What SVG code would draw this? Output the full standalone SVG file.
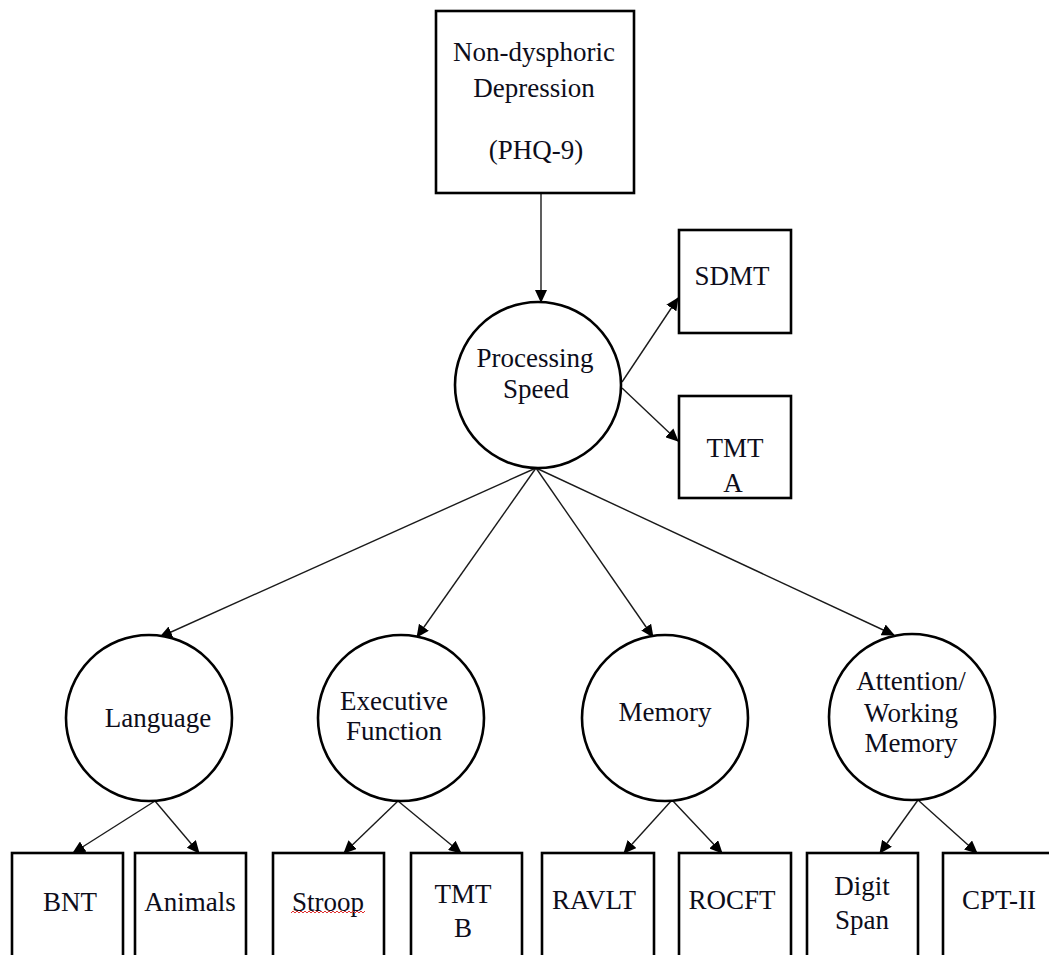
<svg xmlns="http://www.w3.org/2000/svg" width="1049" height="955" viewBox="0 0 1049 955">
<style>
.box{fill:#fff;stroke:#000;stroke-width:2.6}
.circ{fill:#fff;stroke:#000;stroke-width:2.6}
.lbl{font-family:"Liberation Serif","Times New Roman",serif;font-size:27px;fill:#0d0d1a;text-anchor:middle}
.edge{stroke:#1a1a1a;stroke-width:1.4;fill:none;marker-end:url(#ah)}
</style>
<defs>
<marker id="ah" markerWidth="13" markerHeight="12" refX="12" refY="6" orient="auto" markerUnits="userSpaceOnUse">
<path d="M0,0 L13,6 L0,12 Z" fill="#000"/>
</marker>
</defs>
<rect width="1049" height="955" fill="#fff"/>
<g id="connectors">
<line class="edge" x1="541" y1="193" x2="541" y2="302"/>
<line class="edge" x1="622" y1="382" x2="678" y2="298"/>
<line class="edge" x1="622" y1="388" x2="678" y2="441"/>
<line class="edge" x1="536" y1="468" x2="160" y2="637"/>
<line class="edge" x1="536" y1="468" x2="417" y2="637"/>
<line class="edge" x1="536" y1="468" x2="653" y2="637"/>
<line class="edge" x1="536" y1="468" x2="894" y2="635"/>
<line class="edge" x1="155" y1="801" x2="73" y2="853"/>
<line class="edge" x1="155" y1="801" x2="199" y2="853"/>
<line class="edge" x1="398" y1="801" x2="344" y2="853"/>
<line class="edge" x1="398" y1="801" x2="461" y2="853"/>
<line class="edge" x1="672" y1="800" x2="624" y2="853"/>
<line class="edge" x1="672" y1="800" x2="722" y2="853"/>
<line class="edge" x1="918" y1="800" x2="880" y2="853"/>
<line class="edge" x1="918" y1="800" x2="977" y2="853"/>
</g>
<g id="depression">
<rect class="box" x="436" y="11" width="198" height="182"/>
<text class="lbl" x="534" y="61">Non-dysphoric</text>
<text class="lbl" x="534" y="97">Depression</text>
<text class="lbl" x="536" y="159">(PHQ-9)</text>
</g>
<g id="processing-speed">
<circle class="circ" cx="538" cy="385" r="83"/>
<text class="lbl" x="535" y="367">Processing</text>
<text class="lbl" x="536" y="398">Speed</text>
</g>
<g id="sdmt">
<rect class="box" x="679" y="230" width="112" height="103"/>
<text class="lbl" x="732" y="285">SDMT</text>
</g>
<g id="tmt-a">
<rect class="box" x="679" y="396" width="112" height="102"/>
<text class="lbl" x="735" y="457">TMT</text>
<text class="lbl" x="733" y="492">A</text>
</g>
<g id="language">
<circle class="circ" cx="149" cy="718" r="83"/>
<text class="lbl" x="158" y="727">Language</text>
</g>
<g id="executive-function">
<circle class="circ" cx="401" cy="718" r="83"/>
<text class="lbl" x="394" y="710">Executive</text>
<text class="lbl" x="394" y="740">Function</text>
</g>
<g id="memory">
<circle class="circ" cx="665" cy="718" r="83"/>
<text class="lbl" x="665" y="721">Memory</text>
</g>
<g id="attention">
<circle class="circ" cx="912" cy="717" r="83"/>
<text class="lbl" x="911" y="690">Attention/</text>
<text class="lbl" x="911" y="722">Working</text>
<text class="lbl" x="911" y="752">Memory</text>
</g>
<g id="bnt">
<rect class="box" x="12" y="853" width="111" height="120"/>
<text class="lbl" x="70" y="911">BNT</text>
</g>
<g id="animals">
<rect class="box" x="135" y="853" width="111" height="120"/>
<text class="lbl" x="190" y="911">Animals</text>
</g>
<g id="stroop">
<rect class="box" x="273" y="853" width="111" height="120"/>
<text class="lbl" x="328" y="911">Stroop</text>
<path d="M291,913 l2,-2 l2,2 l2,-2 l2,2 l2,-2 l2,2 l2,-2 l2,2 l2,-2 l2,2 l2,-2 l2,2 l2,-2 l2,2 l2,-2 l2,2 l2,-2 l2,2 l2,-2 l2,2 l2,-2 l2,2 l2,-2 l2,2 l2,-2 l2,2 l2,-2 l2,2 l2,-2 l2,2 l2,-2 l2,2 l2,-2 l2,2 l2,-2 l2,2 l2,-2" fill="none" stroke="#e03030" stroke-width="1"/>
</g>
<g id="tmt-b">
<rect class="box" x="411" y="853" width="111" height="120"/>
<text class="lbl" x="463" y="903">TMT</text>
<text class="lbl" x="463" y="937">B</text>
</g>
<g id="ravlt">
<rect class="box" x="542" y="853" width="112" height="120"/>
<text class="lbl" x="594" y="909">RAVLT</text>
</g>
<g id="rocft">
<rect class="box" x="679" y="853" width="112" height="120"/>
<text class="lbl" x="732" y="909">ROCFT</text>
</g>
<g id="digit-span">
<rect class="box" x="807" y="853" width="111" height="120"/>
<text class="lbl" x="862" y="895">Digit</text>
<text class="lbl" x="862" y="929">Span</text>
</g>
<g id="cpt-ii">
<rect class="box" x="943" y="853" width="111" height="120"/>
<text class="lbl" x="999" y="909">CPT-II</text>
</g>
</svg>
